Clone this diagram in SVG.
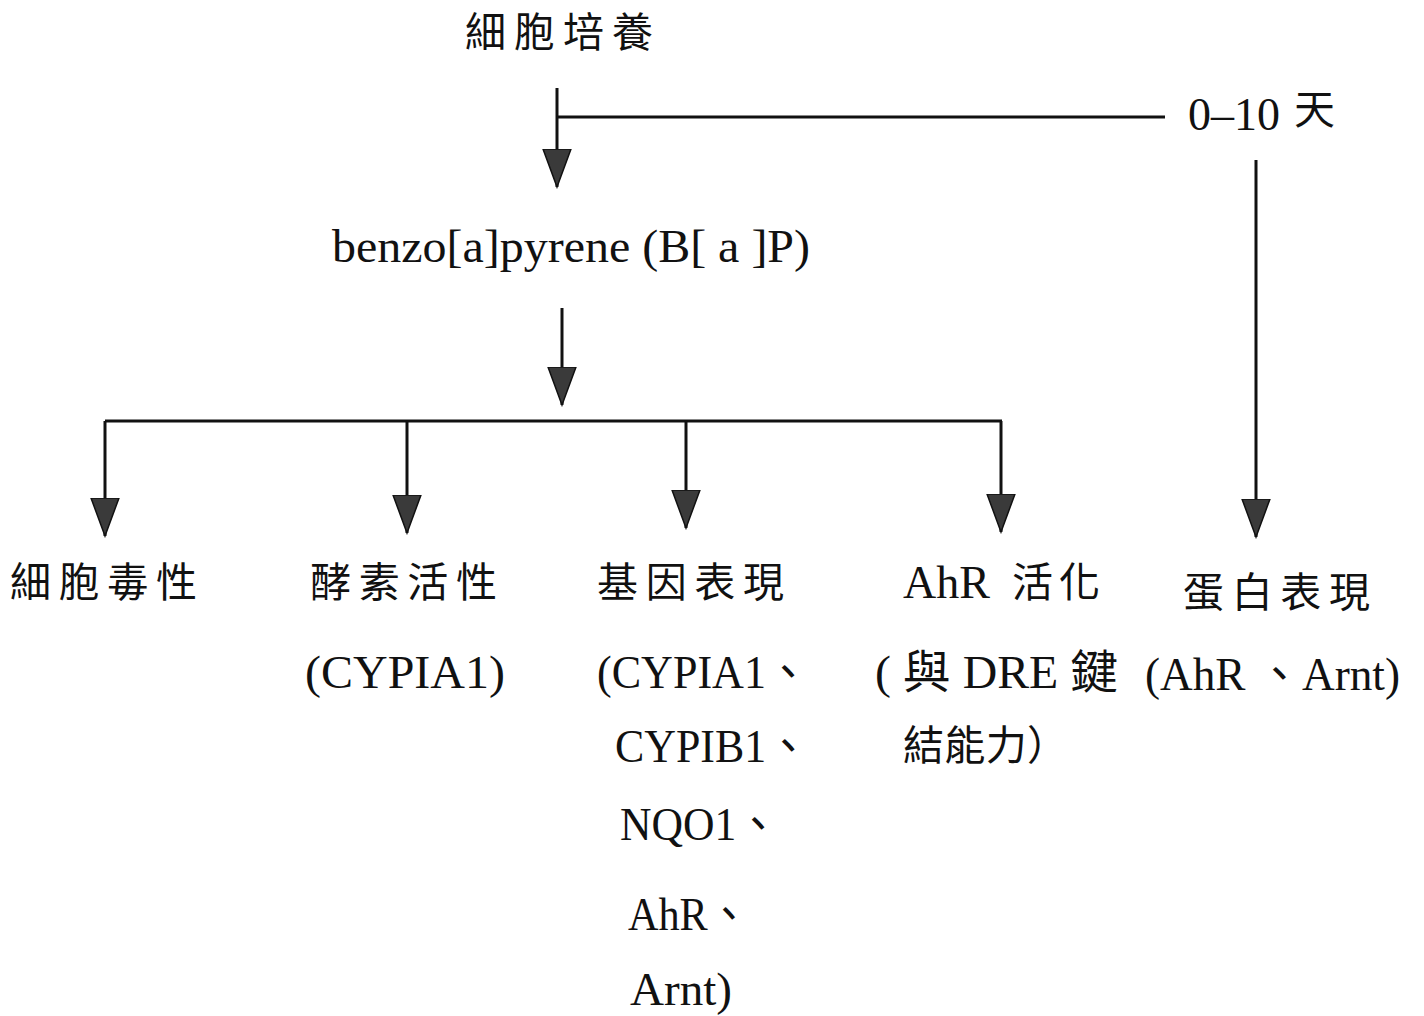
<svg xmlns="http://www.w3.org/2000/svg" width="1424" height="1016" viewBox="0 0 1424 1016">
<style>
.cjk{font-family:"Liberation Serif","Noto Sans CJK TC",serif;font-size:41px;fill:#111}
.lat{font-family:"Liberation Serif","Noto Sans CJK TC",serif;font-size:46px;fill:#111}
.ln{stroke:#111;stroke-width:3;fill:none}
</style>
<defs>
<marker id="ah" markerUnits="userSpaceOnUse" markerWidth="40" markerHeight="30" viewBox="0 -15 40 30" refX="38" refY="0" orient="auto">
<path d="M0,-14 L38,0 L0,14 z" fill="#3a3a3a" stroke="#111" stroke-width="1.5"/>
</marker>
</defs>
<rect width="1424" height="1016" fill="#fff"/>
<g id="connectors">
<line class="ln" x1="557" y1="88" x2="557" y2="187" marker-end="url(#ah)"/>
<line class="ln" x1="557" y1="117" x2="1165" y2="117"/>
<line class="ln" x1="1256" y1="160" x2="1256" y2="537" marker-end="url(#ah)"/>
<line class="ln" x1="562" y1="308" x2="562" y2="405" marker-end="url(#ah)"/>
<line class="ln" x1="105" y1="421" x2="1002" y2="421" stroke-width="5"/>
<line class="ln" x1="105" y1="421" x2="105" y2="536" marker-end="url(#ah)"/>
<line class="ln" x1="407" y1="421" x2="407" y2="533" marker-end="url(#ah)"/>
<line class="ln" x1="686" y1="421" x2="686" y2="528" marker-end="url(#ah)"/>
<line class="ln" x1="1001" y1="421" x2="1001" y2="532" marker-end="url(#ah)"/>
</g>
<g id="node-culture"><text class="cjk" x="465" y="47" textLength="188" lengthAdjust="spacing">細胞培養</text></g>
<g id="node-days"><text class="lat" x="1188" y="130" textLength="92" lengthAdjust="spacingAndGlyphs">0–10</text><text class="cjk" x="1294" y="124">天</text></g>
<g id="node-bap"><text class="lat" x="332" y="262" textLength="478" lengthAdjust="spacingAndGlyphs">benzo[a]pyrene (B[ a ]P)</text></g>
<g id="node-cytotox"><text class="cjk" x="10" y="597" textLength="187" lengthAdjust="spacing">細胞毒性</text></g>
<g id="node-enzyme"><text class="cjk" x="310" y="597" textLength="187" lengthAdjust="spacing">酵素活性</text><text class="lat" x="305" y="688" textLength="200" lengthAdjust="spacingAndGlyphs">(CYPIA1)</text></g>
<g id="node-gene"><text class="cjk" x="597" y="597" textLength="187" lengthAdjust="spacing">基因表現</text>
<text class="lat" x="597" y="688" textLength="213" lengthAdjust="spacingAndGlyphs">(CYPIA1、</text>
<text class="lat" x="615" y="762" textLength="195" lengthAdjust="spacingAndGlyphs">CYPIB1、</text>
<text class="lat" x="620" y="840" textLength="160" lengthAdjust="spacingAndGlyphs">NQO1、</text>
<text class="lat" x="628" y="930" textLength="122" lengthAdjust="spacingAndGlyphs">AhR、</text>
<text class="lat" x="630" y="1005" textLength="102" lengthAdjust="spacingAndGlyphs">Arnt)</text></g>
<g id="node-ahr"><text class="lat" x="903" y="598">AhR</text><text class="cjk" x="1012" y="597" textLength="88" lengthAdjust="spacing">活化</text>
<text class="lat" x="875" y="688" textLength="243" lengthAdjust="spacingAndGlyphs">( 與 DRE 鍵</text>
<text class="cjk" x="903" y="760" textLength="165" lengthAdjust="spacing">結能力）</text></g>
<g id="node-protein"><text class="cjk" x="1183" y="607" textLength="187" lengthAdjust="spacing">蛋白表現</text>
<text class="lat" x="1145" y="690" textLength="255" lengthAdjust="spacingAndGlyphs">(AhR 、Arnt)</text></g>
</svg>
